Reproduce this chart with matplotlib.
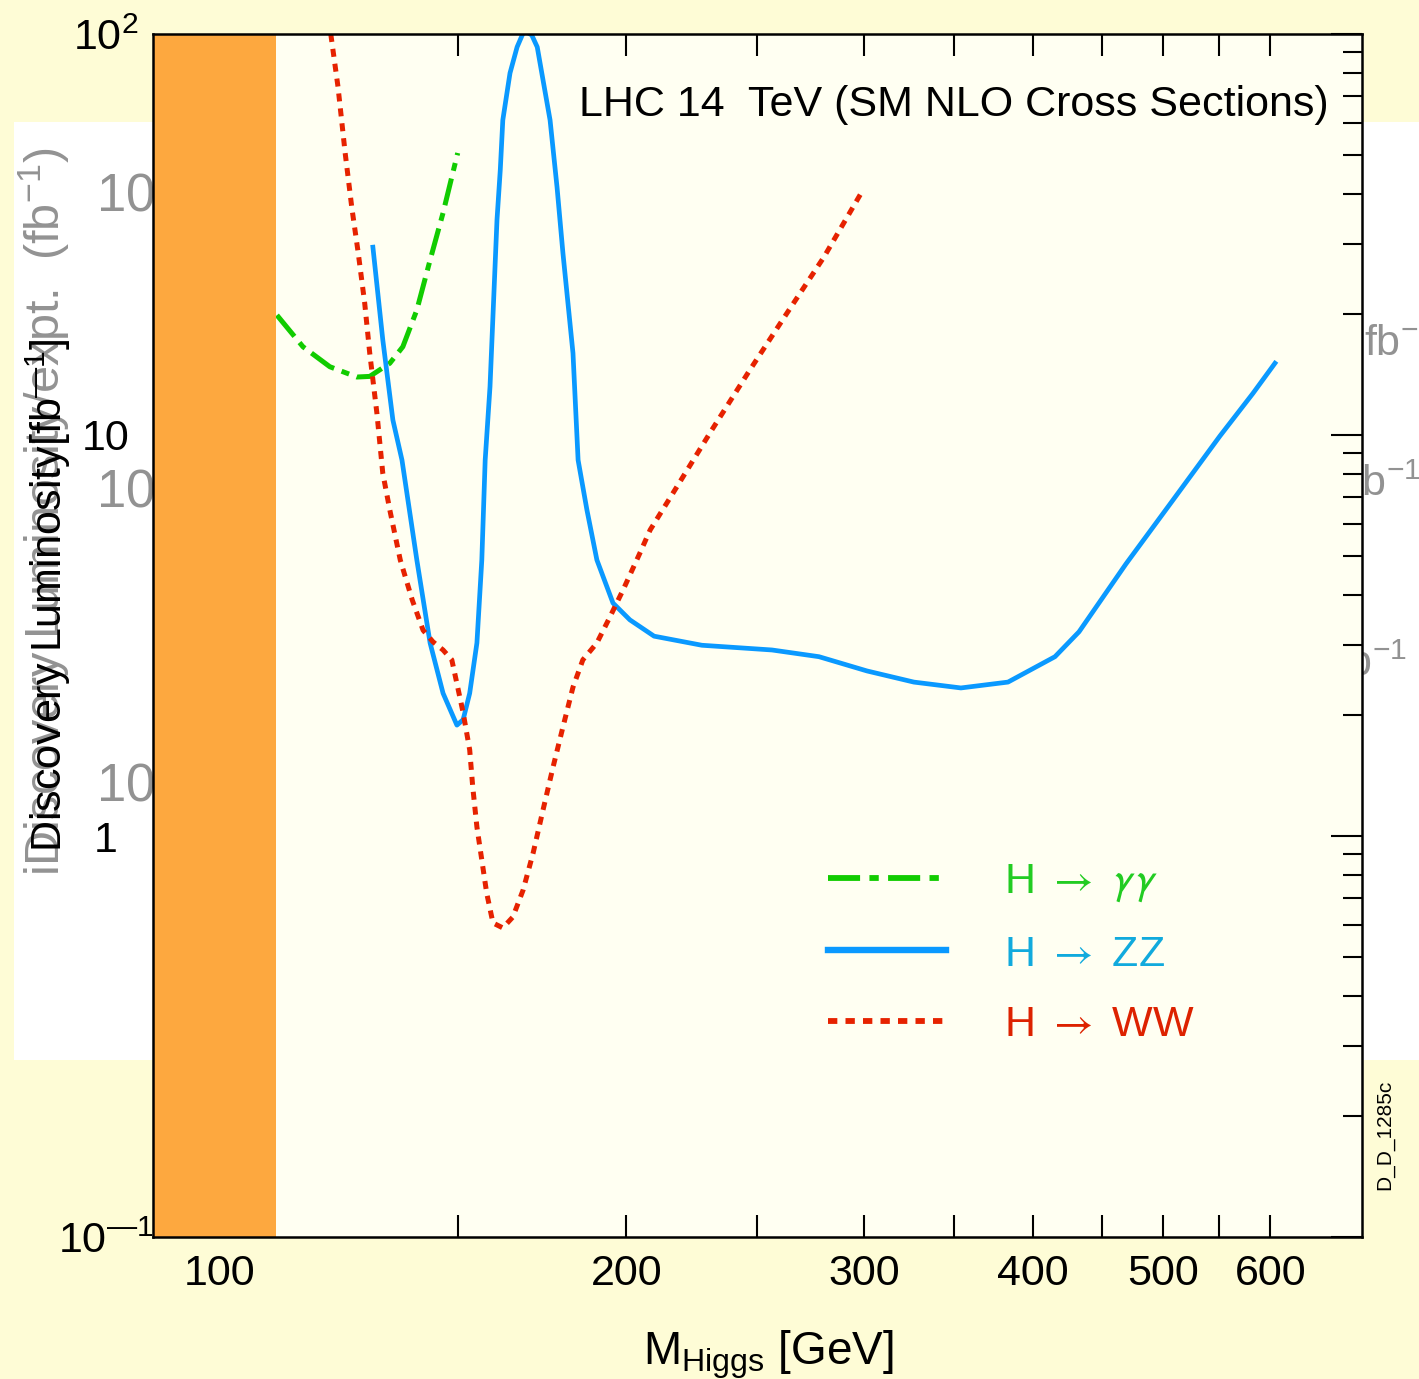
import matplotlib
matplotlib.use("Agg")
import matplotlib.pyplot as plt
from matplotlib.lines import Line2D
from matplotlib.patches import Rectangle
from matplotlib.ticker import NullLocator

plt.rcParams['font.family'] = ['Liberation Sans', 'DejaVu Sans']
plt.rcParams['mathtext.fontset'] = 'stixsans'

# discovery luminosity (fb^-1) vs Higgs mass (GeV)
mass_gg = [110.2, 115.2, 120.6, 126.3, 129.1, 133.6, 136.6, 139.9, 143.1, 146.3, 148.5, 150.0]
lumi_gg = [19.9, 16.6, 14.8, 13.95, 14.0, 15.1, 16.6, 20.5, 27.3, 35.8, 44.0, 50.5]

mass_zz = [129.8, 132.0, 134.3, 136.4, 139.9, 143.1, 146.3, 149.8, 151.4, 153.1, 155.0,
           156.3, 157.2, 158.5, 160.4, 161.3, 162.0, 164.0, 166.0, 167.7, 168.8, 170.2,
           171.8, 173.5, 175.6, 177.7, 179.5, 182.6, 184.2, 187.0, 190.2, 195.5, 201.2,
           209.7, 227.5, 256.4, 277.8, 301.5, 326.6, 353.9, 383.5, 415.5, 432.9, 469.0,
           508.1, 550.5, 582.4, 604.7]
lumi_zz = [29.4, 17.3, 10.9, 8.66, 4.88, 3.03, 2.27, 1.89, 1.95, 2.27, 3.03,
           4.88, 8.66, 13.2, 34.4, 45.8, 61.0, 79.9, 92.8, 100.5, 101.0, 99.4,
           92.8, 76.8, 61.0, 41.5, 28.4, 16.0, 8.66, 6.50, 4.88, 3.81, 3.46,
           3.15, 2.99, 2.91, 2.80, 2.58, 2.42, 2.34, 2.42, 2.80, 3.23, 4.77,
           6.88, 9.94, 12.7, 15.1]

mass_ww = [120.8, 122.3, 123.8, 125.2, 126.6, 128.0, 129.1, 130.7, 132.0, 133.6, 136.0,
           138.8, 141.4, 143.8, 146.3, 148.5, 150.0, 151.4, 153.1, 153.9, 155.0, 156.3,
           157.6, 159.3, 162.0, 164.8, 167.7, 170.6, 173.5, 176.5, 179.5, 182.6, 185.7,
           190.2, 194.5, 198.9, 204.7, 208.3, 216.6, 231.0, 246.5, 262.7, 280.2, 298.9]
lumi_ww = [100.0, 73.8, 50.5, 37.0, 28.4, 21.3, 16.0, 11.3, 8.04, 6.50, 4.88,
           3.88, 3.26, 3.05, 2.91, 2.75, 2.35, 2.03, 1.64, 1.325, 1.053, 0.871,
           0.721, 0.607, 0.590, 0.628, 0.733, 0.907, 1.161, 1.486, 1.87, 2.35, 2.75,
           3.03, 3.52, 4.11, 5.08, 5.80, 7.17, 10.2, 14.4, 20.0, 27.8, 40.4]

lep_limit = 110.0
x_major = [100, 150, 200, 250, 300, 350, 400, 450, 500, 550, 600]
x_labels = ['100', '', '200', '', '300', '', '400', '', '500', '', '600']
y_major = [0.1, 1, 10, 100]
y_labels = ['$\\mathregular{10^{\u20141}}$', '1', '10', '$\\mathregular{10^{2}}$']

green = '#11cc00'
blue = '#0a99ff'
red = '#e62200'

fig = plt.figure(figsize=(14.19, 13.79), dpi=100)
fig.patch.set_facecolor('#fefcd6')

# pasted-over background panel and leftovers from an older version of the plot
fig.add_artist(Rectangle((0.0099, 0.2313), 1.0, 0.6802, transform=fig.transFigure,
                         facecolor='white', edgecolor='none', zorder=-3))
ghost = dict(color='#6e6e6e', alpha=0.75, zorder=-2)
fig.text(0.068, 1 - 197 / 1379, '$\\mathregular{10^{1}}$', fontsize=38, va='center', **ghost)
fig.text(0.068, 1 - 493 / 1379, '$\\mathregular{10^{1}}$', fontsize=38, va='center', **ghost)
fig.text(0.068, 1 - 787 / 1379, '$\\mathregular{10^{0}}$', fontsize=38, va='center', **ghost)
fig.text(0.031, 1 - 512 / 1379, 'iDiscovery Luminosity/expt.  ($\\mathregular{fb^{-1}}$)',
         rotation=90, fontsize=35, ha='center', va='center', **ghost)
fig.text(1364 / 1419, 1 - 345 / 1379, '$\\mathregular{fb^{-1}}$', fontsize=31, va='center', **ghost)
fig.text(1350 / 1419, 1 - 485 / 1379, '$\\mathregular{fb^{-1}}$', fontsize=31, va='center', **ghost)
fig.text(1336 / 1419, 1 - 665 / 1379, '$\\mathregular{fb^{-1}}$', fontsize=31, va='center', **ghost)

ax = fig.add_axes([153 / 1419, 1 - 1237 / 1379, 1209 / 1419, 1203 / 1379])
ax.set_facecolor('#fffff2')
ax.set_xscale('log')
ax.set_yscale('log')
ax.set_xlim(89.2, 701.5)
ax.set_ylim(0.1, 100)

ax.plot(mass_gg, lumi_gg, color=green, lw=3.6, dashes=(5.5, 1.6, 1.6, 1.6), zorder=2)
ax.plot(mass_zz, lumi_zz, color=blue, lw=3.4, zorder=2)
ax.plot(mass_ww, lumi_ww, color=red, lw=3.6, dashes=(1.6, 1.4), zorder=2)
ax.axvspan(89.2, lep_limit, color='#fda83f', lw=0, zorder=2.2)

ax.set_xticks(x_major)
ax.set_xticklabels(x_labels)
ax.xaxis.set_minor_locator(NullLocator())
ax.set_yticks(y_major)
ax.set_yticklabels(y_labels)
ax.tick_params(axis='x', which='major', direction='in', top=True, bottom=True,
               length=16, width=1.5, labelsize=31, pad=12)
ax.tick_params(axis='y', which='major', direction='in', left=False, right=True,
               length=22, width=1.5, labelsize=31, pad=34)
ax.tick_params(axis='y', which='minor', direction='in', left=False, right=True,
               length=14, width=1.5)
for lab in ax.get_yticklabels():
    lab.set_horizontalalignment('center')
for sp in ax.spines.values():
    sp.set_linewidth(1.8)

ax.set_xlabel('$\\mathregular{M_{Higgs}}$ [GeV]', fontsize=33)
ax.xaxis.set_label_coords(0.509, -0.076)

fig.text(48 / 1419, 1 - 595 / 1379, 'Discovery Luminosity[$\\mathregular{fb^{\u20141}}$]',
         rotation=90, fontsize=31, ha='center', va='center')

ax.text(0.972, 0.941, 'LHC 14  TeV (SM NLO Cross Sections)', transform=ax.transAxes,
        fontsize=31, ha='right', va='center')

handles = [Line2D([], [], color=green, lw=4.2, dashes=(5.5, 1.6, 1.6, 1.6)),
           Line2D([], [], color=blue, lw=4.6),
           Line2D([], [], color=red, lw=4.2, dashes=(1.6, 1.4))]
labels = ['H $\\rightarrow$ $\\gamma\\gamma$', 'H $\\rightarrow$ ZZ', 'H $\\rightarrow$ WW']
leg = ax.legend(handles, labels, loc='upper left', bbox_to_anchor=(0.558, 0.312),
                frameon=False, fontsize=31, handlelength=2.75, handletextpad=1.35,
                labelspacing=0.71, borderpad=0, borderaxespad=0)
for txt, c in zip(leg.get_texts(), ['#22cc22', '#11aadd', '#dd2200']):
    txt.set_color(c)

fig.text(1385 / 1419, 1 - 1135 / 1379, 'D_D_1285c', rotation=90, fontsize=15,
         ha='center', va='center')

fig.savefig('out.png', dpi=100, facecolor=fig.get_facecolor())
